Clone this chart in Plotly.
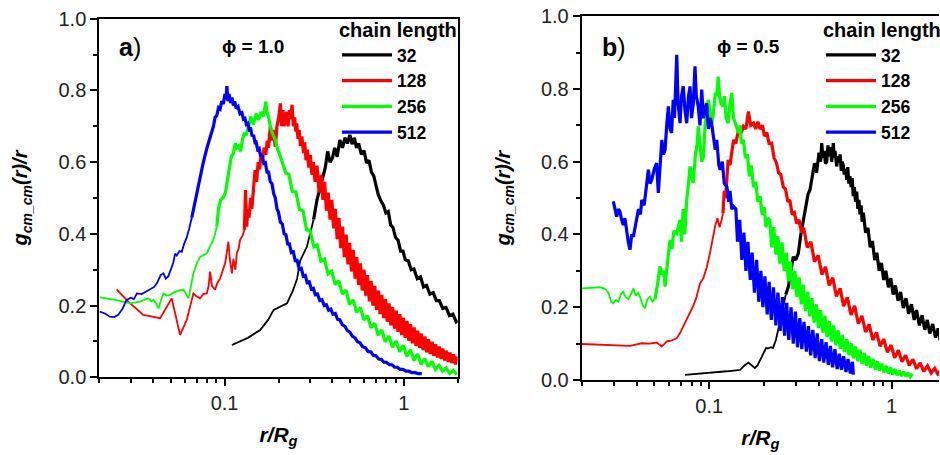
import math
import plotly.graph_objects as go

# ---------------- data: panel a) phi = 1.0 ----------------
A_32 = [(0.110,0.090),(0.135,0.110),(0.158,0.132),(0.175,0.160),(0.188,0.188),(0.205,0.198),(0.223,0.206),(0.240,0.240),(0.254,0.275),(0.264,0.325),(0.276,0.345),(0.288,0.364),(0.300,0.400),(0.314,0.440),(0.328,0.495),(0.340,0.525),(0.352,0.555),(0.365,0.585),(0.376,0.630),(0.388,0.600),(0.400,0.612),(0.412,0.640),(0.425,0.615),(0.440,0.662),(0.455,0.640),(0.470,0.668),(0.485,0.652),(0.500,0.676),(0.515,0.650),(0.530,0.668),(0.545,0.640),(0.560,0.652),(0.580,0.622),(0.600,0.632),(0.620,0.598),(0.640,0.605),(0.660,0.572),(0.680,0.562),(0.700,0.535),(0.720,0.510),(0.745,0.492),(0.770,0.480),(0.795,0.458),(0.820,0.462),(0.845,0.425),(0.870,0.418),(0.900,0.390),(0.930,0.382),(0.960,0.352),(0.990,0.352),(1.02,0.328),(1.06,0.325),(1.10,0.300),(1.14,0.302),(1.19,0.275),(1.24,0.280),(1.29,0.252),(1.34,0.256),(1.40,0.232),(1.46,0.236),(1.52,0.214),(1.58,0.214),(1.65,0.192),(1.72,0.195),(1.80,0.172),(1.88,0.176),(1.96,0.155),(2.0,0.158)]

A_128 = [(0.0250,0.245),(0.0290,0.211),(0.0352,0.174),(0.0437,0.165),(0.0507,0.220),(0.0565,0.118),(0.0615,0.160),(0.0650,0.205),(0.0670,0.234),(0.0700,0.225),(0.0730,0.220),(0.0760,0.232),(0.0796,0.234),(0.0815,0.255),(0.0830,0.295),(0.0850,0.255),(0.0885,0.244),(0.0910,0.262),(0.0945,0.276),(0.0980,0.300),(0.1010,0.320),(0.1050,0.378),(0.1070,0.330),(0.1100,0.290),(0.1120,0.330),(0.1150,0.300),(0.1170,0.346),(0.1200,0.360),(0.1220,0.383),(0.1260,0.395),(0.1290,0.411),(0.1310,0.522),(0.1330,0.420),(0.1350,0.470),(0.1370,0.445),(0.1400,0.500),(0.1420,0.470),(0.1450,0.540),(0.1480,0.578),(0.1510,0.545),(0.1540,0.600),(0.1570,0.580),(0.1600,0.625),(0.1630,0.605),(0.1660,0.640),(0.1700,0.620),(0.1730,0.660),(0.1760,0.640),(0.1800,0.700),(0.1830,0.660),(0.1870,0.690),(0.1920,0.643),(0.1960,0.700),(0.2000,0.720),(0.2050,0.764),(0.2080,0.700),(0.2120,0.745),(0.2150,0.700),(0.2180,0.718),(0.2220,0.740),(0.2260,0.700),(0.2300,0.745),(0.2340,0.720),(0.2380,0.760),(0.2420,0.700),(0.2460,0.725),(0.2500,0.685),(0.2530,0.708),(0.2570,0.665),(0.2610,0.690),(0.2650,0.645),(0.2700,0.672),(0.2760,0.625),(0.2800,0.655),(0.2850,0.605),(0.2900,0.635),(0.2950,0.585),(0.3010,0.620),(0.3070,0.565),(0.3130,0.600),(0.3200,0.545),(0.3280,0.590),
(0.337,0.515),(0.346,0.565),(0.354,0.495),(0.362,0.545),(0.370,0.465),(0.379,0.515),(0.388,0.440),(0.397,0.495),(0.406,0.415),(0.415,0.470),(0.425,0.385),(0.435,0.445),(0.445,0.360),(0.455,0.420),(0.466,0.335),(0.477,0.398),(0.488,0.315),(0.499,0.375),(0.511,0.295),(0.523,0.355),(0.535,0.275),(0.547,0.335),(0.560,0.258),(0.573,0.318),(0.586,0.242),(0.600,0.300),(0.614,0.228),(0.628,0.285),(0.643,0.212),(0.658,0.268),(0.673,0.200),(0.689,0.255),(0.705,0.188),(0.721,0.242),(0.738,0.176),(0.755,0.230),(0.773,0.165),(0.791,0.218),(0.809,0.155),(0.828,0.206),(0.847,0.145),(0.867,0.196),(0.887,0.136),(0.908,0.186),(0.929,0.127),(0.951,0.176),(0.973,0.118),(0.995,0.166),(1.018,0.110),(1.042,0.157),(1.066,0.102),(1.091,0.148),(1.117,0.095),(1.143,0.139),(1.170,0.088),(1.197,0.130),(1.225,0.082),(1.253,0.122),(1.282,0.076),(1.312,0.114),(1.343,0.070),(1.374,0.106),(1.406,0.065),(1.439,0.099),(1.472,0.060),(1.507,0.092),(1.542,0.055),(1.578,0.086),(1.615,0.051),(1.652,0.080),(1.691,0.047),(1.730,0.074),(1.770,0.043),(1.811,0.069),(1.854,0.040),(1.897,0.064),(1.941,0.036),(1.986,0.058)]

A_256 = [(0.0201,0.223),(0.0250,0.215),(0.0297,0.206),(0.0318,0.208),(0.0338,0.211),(0.0357,0.216),(0.0376,0.220),(0.0390,0.212),(0.0401,0.216),(0.0415,0.205),(0.0428,0.192),(0.0442,0.215),(0.0456,0.234),(0.0475,0.228),(0.0497,0.230),(0.0520,0.236),(0.0541,0.239),(0.0565,0.243),(0.0590,0.244),(0.0610,0.232),(0.0629,0.220),(0.0650,0.255),(0.0670,0.290),(0.0700,0.318),(0.0731,0.336),(0.0760,0.340),(0.0796,0.346),(0.0830,0.365),(0.0867,0.383),(0.0885,0.400),(0.0905,0.420),(0.0925,0.470),(0.0950,0.494),(0.0980,0.500),(0.1010,0.513),(0.1030,0.540),(0.1060,0.585),(0.1090,0.615),(0.1120,0.625),(0.1150,0.653),(0.1170,0.640),(0.1200,0.645),(0.1230,0.630),(0.1260,0.665),(0.1290,0.681),(0.1320,0.675),(0.1360,0.699),(0.1400,0.727),(0.1450,0.705),(0.1500,0.735),(0.1550,0.718),(0.1600,0.740),(0.1650,0.728),(0.1700,0.769),(0.1720,0.740),(0.1760,0.727),(0.1800,0.700),(0.1850,0.680),(0.1920,0.662),(0.1980,0.635),(0.2050,0.615),(0.2120,0.590),(0.2200,0.569),
(0.228,0.567),(0.239,0.518),(0.250,0.517),(0.262,0.468),(0.274,0.464),(0.287,0.411),(0.300,0.409),(0.315,0.364),(0.329,0.369),(0.345,0.324),(0.361,0.330),(0.378,0.288),(0.396,0.296),(0.415,0.258),(0.434,0.269),(0.455,0.232),(0.476,0.243),(0.498,0.203),(0.522,0.216),(0.546,0.181),(0.572,0.195),(0.599,0.160),(0.627,0.172),(0.657,0.138),(0.688,0.151),(0.720,0.117),(0.754,0.132),(0.789,0.099),(0.827,0.115),(0.865,0.084),(0.906,0.101),(0.949,0.071),(0.993,0.089),(1.040,0.059),(1.089,0.077),(1.140,0.047),(1.194,0.065),(1.250,0.036),(1.309,0.052),(1.370,0.030),(1.435,0.044),(1.502,0.022),(1.573,0.033),(1.647,0.017),(1.724,0.026),(1.805,0.011),(1.890,0.019),(1.980,0.008)]

A_512 = [(0.0201,0.183),(0.0215,0.178),(0.0229,0.169),(0.0242,0.168),(0.0255,0.174),(0.0270,0.192),(0.0284,0.216),(0.0300,0.222),(0.0312,0.218),(0.0324,0.234),(0.0345,0.232),(0.0368,0.240),(0.0390,0.245),(0.0405,0.252),(0.0419,0.262),(0.0440,0.285),(0.0456,0.290),(0.0470,0.275),(0.0486,0.282),(0.0500,0.300),(0.0518,0.320),(0.0530,0.345),(0.0541,0.340),(0.0560,0.352),(0.0577,0.350),(0.0595,0.372),(0.0615,0.390),(0.0635,0.415),(0.0656,0.445),(0.0680,0.485),(0.0705,0.525),(0.0731,0.562),(0.0760,0.598),(0.0796,0.638),(0.0830,0.668),(0.0850,0.690),(0.0867,0.700),(0.0885,0.725),(0.0905,0.730),(0.0925,0.752),(0.0945,0.748),(0.0965,0.770),(0.0985,0.762),(0.1005,0.790),(0.1020,0.775),(0.1030,0.812),(0.1045,0.770),(0.1060,0.790),(0.1080,0.765),(0.1100,0.780),(0.1120,0.758),(0.1140,0.770),(0.1160,0.750),(0.1190,0.755),(0.1220,0.735),(0.1250,0.738),(0.1275,0.720),
(0.1300,0.722),(0.1325,0.705),(0.1350,0.708),(0.1375,0.690),(0.1400,0.692),(0.1425,0.672),(0.1450,0.676),(0.1480,0.655),(0.1500,0.656),(0.1530,0.635),(0.1560,0.638),(0.1590,0.615),(0.1620,0.620),(0.1655,0.596),(0.1690,0.598),(0.1725,0.572),(0.1760,0.572),(0.1800,0.545),(0.1840,0.540),(0.1880,0.512),(0.1920,0.500),(0.1960,0.470),(0.2000,0.460),(0.2050,0.432),(0.2100,0.428),(0.2150,0.400),(0.2200,0.398),(0.2250,0.372),(0.2300,0.372),(0.2360,0.348),(0.2420,0.350),(0.2480,0.325),(0.2540,0.326),(0.2610,0.302),(0.2680,0.304),(0.2750,0.282),(0.2820,0.284),(0.2890,0.264),(0.2970,0.266),(0.3050,0.246),(0.3130,0.248),(0.3210,0.230),(0.3300,0.232),(0.3400,0.214),(0.3500,0.216),(0.3600,0.200),(0.3700,0.202),(0.3810,0.187),(0.3920,0.190),(0.4030,0.176),(0.4150,0.178),(0.4270,0.162),(0.4400,0.160),(0.4550,0.146),(0.4700,0.142),(0.4850,0.130),(0.5000,0.126),(0.5170,0.114),(0.5350,0.110),(0.5520,0.099),(0.5700,0.096),(0.5900,0.085),(0.6100,0.083),(0.6320,0.072),(0.6550,0.071),(0.6770,0.061),(0.7000,0.060),(0.7250,0.051),(0.7500,0.050),(0.7750,0.042),(0.8000,0.042),(0.8300,0.035),(0.8600,0.035),(0.8900,0.028),(0.9200,0.028),(0.9550,0.022),(0.9900,0.022),(1.0300,0.017),(1.0700,0.017),(1.1100,0.013),(1.1600,0.013),(1.2100,0.010),(1.2600,0.010)]

# ---------------- data: panel b) phi = 0.5 ----------------
B_32 = [(0.0736,0.014),(0.100,0.019),(0.125,0.024),(0.148,0.028),(0.156,0.040),(0.164,0.048),(0.172,0.040),(0.178,0.033),(0.184,0.040),(0.190,0.055),(0.198,0.073),(0.205,0.088),(0.211,0.087),(0.218,0.090),(0.224,0.088),(0.232,0.110),(0.239,0.138),(0.247,0.175),(0.255,0.211),(0.263,0.235),(0.272,0.257),(0.280,0.300),(0.289,0.339),(0.298,0.330),(0.308,0.348),(0.318,0.400),(0.328,0.440),(0.338,0.478),(0.348,0.510),(0.357,0.523),(0.368,0.560),(0.378,0.596),(0.388,0.570),(0.400,0.625),(0.408,0.600),(0.414,0.651),(0.420,0.610),(0.427,0.630),(0.434,0.595),(0.441,0.600),(0.448,0.645),(0.455,0.615),(0.462,0.640),(0.469,0.600),(0.475,0.625),(0.479,0.651),(0.485,0.610),(0.490,0.630),(0.500,0.587),(0.508,0.615),(0.515,0.598),(0.522,0.620),(0.530,0.575),(0.536,0.600),(0.543,0.590),(0.550,0.565),(0.560,0.580),(0.568,0.550),(0.575,0.585),(0.583,0.540),(0.591,0.560),(0.600,0.530),(0.608,0.555),(0.616,0.505),(0.625,0.530),(0.634,0.490),(0.644,0.518),(0.653,0.470),(0.662,0.495),(0.671,0.455),(0.680,0.480),(0.690,0.435),(0.700,0.460),
(0.720,0.405),(0.742,0.418),(0.763,0.365),(0.785,0.382),(0.808,0.330),(0.830,0.350),(0.855,0.300),(0.880,0.322),(0.905,0.275),(0.930,0.300),(0.960,0.255),(0.990,0.280),(1.020,0.235),(1.050,0.260),(1.085,0.218),(1.120,0.242),(1.160,0.198),(1.200,0.225),(1.240,0.182),(1.285,0.208),(1.330,0.165),(1.370,0.192),(1.420,0.150),(1.470,0.178),(1.520,0.138),(1.570,0.165),(1.620,0.128),(1.680,0.154),(1.740,0.117),(1.800,0.142),(1.850,0.108)]

B_128 = [(0.0200,0.099),(0.0240,0.098),(0.0280,0.097),(0.0320,0.096),(0.0368,0.094),(0.0400,0.098),(0.0427,0.101),(0.0470,0.100),(0.0515,0.103),(0.0535,0.097),(0.0550,0.092),(0.0570,0.100),(0.0585,0.106),(0.0620,0.108),(0.0664,0.115),(0.0692,0.129),(0.0721,0.147),(0.0750,0.165),(0.0785,0.183),(0.0820,0.205),(0.0853,0.229),(0.0890,0.265),(0.0929,0.280),(0.0970,0.310),(0.1010,0.349),(0.1050,0.400),(0.1080,0.425),(0.1110,0.445),(0.1140,0.420),(0.1170,0.440),(0.1190,0.458),(0.1210,0.520),(0.1230,0.500),(0.1270,0.605),(0.1300,0.590),(0.1360,0.660),(0.1400,0.650),(0.1450,0.690),(0.1500,0.680),(0.1540,0.697),(0.1590,0.690),(0.1640,0.738),(0.1690,0.700),(0.1750,0.706),(0.1800,0.690),(0.1850,0.710),(0.1900,0.690),(0.1960,0.700),(0.2010,0.670),(0.2070,0.680),(0.2130,0.650),(0.2200,0.651),(0.2270,0.610),(0.2340,0.596),(0.2400,0.570),(0.2470,0.565),(0.2550,0.530),(0.2620,0.525),(0.2700,0.490),(0.2770,0.495),(0.2850,0.455),(0.2930,0.460),(0.3020,0.430),(0.3110,0.440),(0.3210,0.405),
(0.330,0.418),(0.345,0.364),(0.361,0.380),(0.378,0.325),(0.396,0.343),(0.415,0.290),(0.434,0.311),(0.455,0.260),(0.476,0.281),(0.498,0.230),(0.522,0.252),(0.546,0.203),(0.572,0.227),(0.599,0.179),(0.627,0.204),(0.657,0.155),(0.688,0.176),(0.720,0.132),(0.754,0.153),(0.789,0.110),(0.827,0.131),(0.865,0.093),(0.906,0.112),(0.949,0.076),(0.993,0.096),(1.040,0.061),(1.089,0.082),(1.140,0.050),(1.194,0.068),(1.250,0.040),(1.309,0.057),(1.370,0.031),(1.435,0.047),(1.502,0.024),(1.573,0.039),(1.647,0.019),(1.724,0.032),(1.805,0.013),(1.850,0.028)]

B_256 = [(0.0200,0.252),(0.0230,0.253),(0.0252,0.255),(0.0270,0.250),(0.0280,0.240),(0.0290,0.215),(0.0298,0.211),(0.0308,0.220),(0.0318,0.215),(0.0328,0.235),(0.0338,0.243),(0.0348,0.228),(0.0360,0.222),(0.0372,0.235),(0.0384,0.252),(0.0396,0.232),(0.0408,0.240),(0.0420,0.225),(0.0432,0.205),(0.0445,0.197),(0.0458,0.222),(0.0473,0.229),(0.0488,0.215),(0.0504,0.222),(0.0520,0.260),(0.0537,0.312),(0.0550,0.290),(0.0562,0.300),(0.0573,0.257),(0.0590,0.320),(0.0610,0.385),(0.0625,0.360),(0.0640,0.410),(0.0664,0.403),(0.0680,0.420),(0.0692,0.440),(0.0705,0.380),(0.0720,0.470),(0.0735,0.400),(0.0753,0.495),(0.0770,0.540),(0.0785,0.587),(0.0800,0.560),(0.0818,0.541),(0.0840,0.620),(0.0860,0.650),(0.0871,0.697),(0.0890,0.640),(0.0910,0.600),(0.0929,0.614),(0.0950,0.700),(0.0970,0.740),(0.0989,0.770),(0.1010,0.740),(0.1030,0.700),(0.1050,0.724),(0.1080,0.790),(0.1100,0.780),(0.1120,0.834),(0.1140,0.780),(0.1160,0.760),(0.1190,0.752),(0.1210,0.780),(0.1240,0.720),(0.1270,0.706),(0.1300,0.760),(0.1330,0.789),(0.1360,0.720),(0.1400,0.700),(0.1450,0.679),(0.1480,0.700),(0.1500,0.650),(0.1540,0.660),(0.1580,0.610),(0.1620,0.620),(0.1660,0.560),(0.1700,0.590),(0.1750,0.530),(0.1800,0.545),(0.1850,0.490),(0.1900,0.505),(0.1950,0.455),(0.2000,0.475),(0.2050,0.420),(0.2100,0.445),
(0.2150,0.440),(0.2200,0.365),(0.2260,0.420),(0.2320,0.345),(0.2380,0.395),(0.2440,0.320),(0.2510,0.378),(0.2580,0.300),(0.2650,0.350),(0.2720,0.272),(0.2790,0.325),(0.2870,0.250),(0.2950,0.300),(0.3030,0.228),(0.3110,0.282),(0.3200,0.208),(0.3280,0.262),(0.3370,0.190),(0.3470,0.242),(0.3560,0.175),(0.3660,0.225),(0.3760,0.158),(0.3870,0.208),(0.3970,0.143),(0.4080,0.192),(0.4200,0.130),(0.4310,0.176),(0.4430,0.118),(0.4560,0.162),(0.4680,0.106),(0.4810,0.150),(0.4950,0.096),(0.5090,0.136),(0.5230,0.086),(0.5370,0.124),(0.5520,0.077),(0.5680,0.112),(0.5840,0.068),(0.6000,0.101),(0.6170,0.060),(0.6340,0.092),(0.6520,0.052),(0.6700,0.083),(0.6890,0.045),(0.7080,0.074),(0.7280,0.039),(0.7480,0.066),(0.7690,0.034),(0.7910,0.058),(0.8130,0.029),(0.8360,0.051),(0.8590,0.025),(0.8830,0.045),(0.9080,0.021),(0.9340,0.039),(0.9600,0.018),(0.9870,0.034),(1.0150,0.015),(1.0430,0.030),(1.0720,0.013),(1.1020,0.026),(1.1330,0.011),(1.1650,0.023),(1.1980,0.010),(1.2310,0.020),(1.2660,0.009),(1.3000,0.017)]

B_512 = [(0.0298,0.491),(0.0305,0.470),(0.0311,0.449),(0.0318,0.470),(0.0324,0.463),(0.0331,0.440),(0.0338,0.426),(0.0345,0.445),(0.0353,0.403),(0.0360,0.380),(0.0368,0.358),(0.0376,0.400),(0.0384,0.394),(0.0392,0.420),(0.0400,0.440),(0.0410,0.470),(0.0420,0.455),(0.0427,0.495),(0.0440,0.480),(0.0454,0.532),(0.0464,0.578),(0.0474,0.540),(0.0484,0.550),(0.0500,0.580),(0.0515,0.596),(0.0526,0.514),(0.0538,0.600),(0.0550,0.660),(0.0562,0.620),(0.0573,0.633),(0.0585,0.700),(0.0597,0.752),(0.0610,0.690),(0.0622,0.679),(0.0635,0.770),(0.0645,0.720),(0.0664,0.894),(0.0675,0.760),(0.0692,0.706),(0.0705,0.780),(0.0721,0.807),(0.0737,0.740),(0.0753,0.706),(0.0770,0.780),(0.0785,0.807),(0.0800,0.720),(0.0818,0.760),(0.0836,0.862),(0.0850,0.780),(0.0871,0.752),(0.0890,0.700),(0.0910,0.798),(0.0930,0.720),(0.0950,0.740),(0.0968,0.761),(0.0990,0.690),(0.1010,0.720),(0.1030,0.706),(0.1060,0.650),(0.1080,0.633),(0.1100,0.660),(0.1130,0.590),(0.1150,0.578),(0.1180,0.600),(0.1210,0.540),(0.1250,0.532),(0.1280,0.490),(0.1300,0.520),(0.1330,0.470),(0.1360,0.477),
(0.1400,0.470),(0.1430,0.380),(0.1470,0.440),(0.1510,0.330),(0.1550,0.405),(0.1590,0.300),(0.1630,0.380),(0.1680,0.275),(0.1720,0.350),(0.1770,0.240),(0.1820,0.330),(0.1870,0.215),(0.1920,0.300),(0.1970,0.200),(0.2020,0.285),(0.2080,0.180),(0.2130,0.270),(0.2190,0.165),(0.2250,0.255),(0.2320,0.150),(0.2380,0.240),(0.2450,0.135),(0.2520,0.228),(0.2590,0.122),(0.2660,0.212),(0.2730,0.110),(0.2810,0.200),(0.2890,0.100),(0.2970,0.188),(0.3050,0.090),(0.3140,0.170),(0.3220,0.085),(0.3310,0.160),(0.3410,0.078),(0.3500,0.148),(0.3600,0.068),(0.3700,0.138),(0.3810,0.060),(0.3910,0.128),(0.4020,0.052),(0.4140,0.112),(0.4250,0.048),(0.4370,0.104),(0.4500,0.042),(0.4620,0.094),(0.4750,0.035),(0.4890,0.085),(0.5030,0.030),(0.5170,0.072),(0.5310,0.028),(0.5460,0.065),(0.5620,0.022),(0.5770,0.058),(0.5940,0.018),(0.6100,0.050),(0.6170,0.015)]

CHAIN_LENGTHS = ["32", "128", "256", "512"]
COLORS = ["#000000", "#ff0000", "#00ff00", "#0000ff"]
PANEL_A = [A_32, A_128, A_256, A_512]
PANEL_B = [B_32, B_128, B_256, B_512]
# r/Rg where each curve switches from its thin (quiet) part to its thick (noisy) part
THICK_FROM_A = [0.314, 0.129, 0.0905, 0.0656]
THICK_FROM_B = [0.263, 0.119, 0.0504, 0.0298]
PANEL_LABELS = ["a", "b"]
PHI_LABELS = ["\u03d5 = 1.0", "\u03d5 = 0.5"]
X_MAJOR = [0.1, 1]
X_MINOR = [0.02, 0.03, 0.04, 0.05, 0.06, 0.07, 0.08, 0.09, 0.2, 0.3, 0.4, 0.5, 0.6, 0.7, 0.8, 0.9, 2]

W, H = 940, 455
FONT = "Liberation Sans, Arial, sans-serif"
THIN, THICK = 1.8, 3.2

fig = go.Figure()
for series, split, xa, ya, leg in [(PANEL_A, THICK_FROM_A, "x", "y", "legend"),
                                   (PANEL_B, THICK_FROM_B, "x2", "y2", "legend2")]:
    for name, color, pts, xs in zip(CHAIN_LENGTHS, COLORS, series, split):
        thin = [p for p in pts if p[0] <= xs]
        thick = [p for p in pts if p[0] >= xs]
        if len(thin) > 1:
            fig.add_trace(go.Scatter(
                x=[p[0] for p in thin], y=[p[1] for p in thin], mode="lines", name=name,
                line=dict(color=color, width=THIN), xaxis=xa, yaxis=ya, legend=leg,
                showlegend=False, hoverinfo="skip"))
        fig.add_trace(go.Scatter(
            x=[p[0] for p in thick], y=[p[1] for p in thick], mode="lines", name=name,
            line=dict(color=color, width=THICK), xaxis=xa, yaxis=ya, legend=leg,
            hoverinfo="skip"))

def xaxis_cfg(domain, rng, anchor):
    return dict(domain=domain, anchor=anchor, type="log", range=rng, showline=True, linecolor="black", linewidth=2,
                mirror=True, ticks="outside", ticklen=7, tickwidth=2, tickcolor="black", automargin=False,
                tickvals=X_MAJOR, ticktext=["0.1", "1"], showgrid=False, zeroline=False,
                tickfont=dict(size=20, color="#222"),
                minor=dict(tickmode="array", tickvals=X_MINOR, ticks="outside", ticklen=4, tickwidth=1.5,
                           tickcolor="black", showgrid=False),
                title=dict(text="<b><i>r/R</i></b><sub><b><i>g</i></b></sub>", font=dict(size=21), standoff=14))

def yaxis_cfg(domain, anchor, mirror):
    return dict(domain=domain, anchor=anchor, range=[0, 1], dtick=0.2, tick0=0, tickformat=".1f",
                showline=True, linecolor="black", linewidth=2, mirror=mirror, ticks="outside", ticklen=7,
                tickwidth=2, tickcolor="black", showgrid=False, zeroline=False, automargin=False,
                tickfont=dict(size=20, color="#222"),
                minor=dict(dtick=0.1, ticks="outside", ticklen=4, tickwidth=1.5, tickcolor="black", showgrid=False),
                title=dict(text="<b><i>g</i></b><sub><b><i>cm_cm</i></b></sub><b><i>(r)/r</i></b>",
                           font=dict(size=20), standoff=25))

def yaxis_right(over, anchor):
    return dict(overlaying=over, anchor=anchor, side="right", range=[0, 1], dtick=0.2, tick0=0,
                showline=False, showticklabels=False, ticks="inside", ticklen=7, tickwidth=2, tickcolor="black",
                showgrid=False, zeroline=False, automargin=False,
                minor=dict(dtick=0.1, ticks="inside", ticklen=4, tickwidth=1.5, tickcolor="black", showgrid=False))

lg = math.log10
xa_dom = [99.3 / W, 457.7 / W]
xb_dom = [581.7 / W, 939.0 / W]
ya_dom = [1 - 377.3 / H, 1 - 18.7 / H]
yb_dom = [1 - 380.0 / H, 1 - 16.2 / H]

def legend_cfg(xpx):
    return dict(x=xpx / W, y=1 - 11 / H, xanchor="left", yanchor="top", bgcolor="rgba(0,0,0,0)",
                title=dict(text="chain length", font=dict(size=20, weight="bold", color="black")),
                font=dict(size=17.5, weight="bold", color="black"), itemwidth=50, tracegroupgap=0,
                itemclick=False, itemdoubleclick=False)

fig.update_layout(
    width=W, height=H, margin=dict(l=0, r=0, t=0, b=0, autoexpand=False),
    paper_bgcolor="white", plot_bgcolor="white",
    font=dict(family=FONT, size=19, color="black"),
    xaxis=xaxis_cfg(xa_dom, [lg(0.02), lg(2)], "y"),
    yaxis=yaxis_cfg(ya_dom, "x", True),
    yaxis3=yaxis_right("y", "x"),
    xaxis2=xaxis_cfg(xb_dom, [lg(0.02), lg(0.02) + (939.0 - 581.7) / 182.4], "y2"),
    yaxis2=yaxis_cfg(yb_dom, "x2", False),
    yaxis4=yaxis_right("y2", "x2"),
    legend=legend_cfg(337),
    legend2=legend_cfg(821),
    showlegend=True,
)

for xpx, lab, phix, phi in [(130, PANEL_LABELS[0], 253, PHI_LABELS[0]), (614, PANEL_LABELS[1], 748, PHI_LABELS[1])]:
    fig.add_annotation(x=xpx / W, y=1 - 47 / H, xref="paper", yref="paper", showarrow=False,
                       xanchor="center", yanchor="middle",
                       text="<b>%s</b>)" % lab, font=dict(size=25, color="black"))
    fig.add_annotation(x=phix / W, y=1 - 47 / H, xref="paper", yref="paper", showarrow=False,
                       xanchor="center", yanchor="middle",
                       text="<b>%s</b>" % phi, font=dict(size=19, color="black"))

fig.write_html("out.html")
